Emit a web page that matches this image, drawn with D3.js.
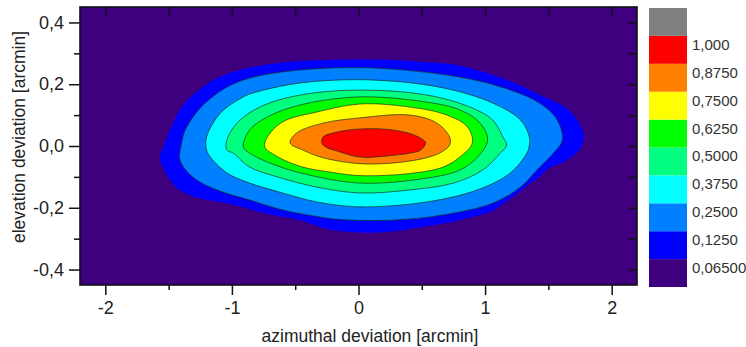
<!DOCTYPE html>
<html>
<head>
<meta charset="utf-8">
<script src="https://cdn.jsdelivr.net/npm/d3@7/dist/d3.min.js"></script>
<style>
  html, body { margin: 0; padding: 0; background: #ffffff; }
  svg { display: block; font-family: "Liberation Sans", Arial, sans-serif; }
</style>
</head>
<body>
<svg id="chart" width="746" height="347"></svg>
<script>
// Axis ticks (arcmin)
const azTicks = [-2, -1, 0, 1, 2];
const azMinor = [-1.5, -0.5, 0.5, 1.5];
const elTicks = [-0.4, -0.2, 0.0, 0.2, 0.4];
const elMinor = [-0.3, -0.1, 0.1, 0.3];

// Contour levels (normalised intensity) and the colour of each band
const levels = [0.065, 0.125, 0.25, 0.375, 0.5, 0.625, 0.75, 0.875, 1.0];
const levelLabels = ["0,06500", "0,1250", "0,2500", "0,3750", "0,5000", "0,6250", "0,7500", "0,8750", "1,000"];
const bandColors = ["#3f0080", "#0000ff", "#0080ff", "#00ffff", "#00ff80", "#00ff00", "#ffff00", "#ff8000", "#ff0000", "#808080"];

// Iso-intensity rings, [azimuth, elevation] in arcmin
const ring065 = [[-1.57,-0.04],[-1.54,0.00],[-1.49,0.05],[-1.39,0.13],[-1.20,0.20],[-0.99,0.24],[-0.60,0.27],[0.09,0.28],[0.57,0.27],[0.80,0.26],[1.20,0.21],[1.46,0.16],[1.65,0.12],[1.75,0.07],[1.78,0.03],[1.75,-0.01],[1.63,-0.05],[1.51,-0.07],[1.43,-0.10],[1.33,-0.13],[1.20,-0.17],[1.06,-0.21],[0.80,-0.24],[0.54,-0.26],[0.17,-0.28],[-0.23,-0.27],[-0.46,-0.24],[-0.72,-0.22],[-0.99,-0.19],[-1.33,-0.16],[-1.45,-0.13],[-1.53,-0.08]];
const ring125 = [[-1.41,-0.045],[-1.40,0.003],[-1.37,0.05],[-1.25,0.123],[-1.05,0.188],[-0.83,0.223],[-0.46,0.246],[0.09,0.253],[0.80,0.223],[1.20,0.181],[1.43,0.139],[1.57,0.084],[1.61,0.019],[1.54,-0.023],[1.41,-0.078],[1.28,-0.133],[1.06,-0.185],[0.67,-0.223],[0.27,-0.240],[-0.15,-0.238],[-0.33,-0.228],[-0.60,-0.207],[-0.86,-0.175],[-1.12,-0.142],[-1.31,-0.100]];
const ring250 = [[-1.20,-0.013],[-1.20,0.029],[-1.09,0.107],[-0.91,0.159],[-0.83,0.172],[-0.46,0.204],[0.09,0.214],[0.67,0.188],[1.06,0.139],[1.28,0.084],[1.35,0.029],[1.35,0.003],[1.33,-0.023],[1.20,-0.087],[0.94,-0.142],[0.54,-0.181],[0.01,-0.197],[-0.33,-0.181],[-0.60,-0.152],[-0.86,-0.120],[-1.04,-0.087],[-1.17,-0.036]];
const ring375 = [[-1.04,-0.013],[-1.04,0.019],[-0.96,0.074],[-0.78,0.126],[-0.46,0.165],[0.01,0.181],[0.54,0.165],[0.88,0.126],[1.06,0.084],[1.14,0.029],[1.17,0.003],[1.12,-0.023],[0.98,-0.078],[0.75,-0.120],[0.41,-0.142],[0.01,-0.152],[-0.33,-0.133],[-0.64,-0.100],[-0.86,-0.068],[-0.99,-0.023]];
const ring500 = [[-0.91,-0.003],[-0.86,0.052],[-0.72,0.094],[-0.46,0.133],[0.01,0.159],[0.54,0.142],[0.80,0.117],[0.96,0.074],[1.02,0.019],[0.94,-0.036],[0.80,-0.078],[0.54,-0.104],[0.01,-0.120],[-0.46,-0.087],[-0.70,-0.055],[-0.86,-0.023]];
const ring625 = [[-0.74,-0.003],[-0.72,0.029],[-0.60,0.078],[-0.33,0.110],[0.01,0.136],[0.41,0.126],[0.70,0.100],[0.86,0.062],[0.90,0.010],[0.80,-0.036],[0.67,-0.068],[0.41,-0.089],[0.01,-0.096],[-0.20,-0.086],[-0.46,-0.066],[-0.66,-0.030]];
const ring750 = [[-0.54,0.010],[-0.49,0.042],[-0.28,0.074],[0.01,0.091],[0.41,0.100],[0.62,0.074],[0.72,0.029],[0.72,0.003],[0.64,-0.023],[0.46,-0.045],[0.05,-0.058],[-0.28,-0.038],[-0.44,-0.013]];
const ring875 = [[-0.29,0.010],[-0.28,0.029],[-0.17,0.045],[0.01,0.055],[0.27,0.052],[0.46,0.032],[0.53,0.010],[0.49,-0.013],[0.41,-0.023],[0.23,-0.032],[0.01,-0.036],[-0.17,-0.016],[-0.26,-0.003]];
const rings = [ring065, ring125, ring250, ring375, ring500, ring625, ring750, ring875];

// Layout
const W = 746, H = 347;
const plot = { left: 80, right: 637, top: 7, bottom: 285 };
const bar = { left: 649, right: 687, top: 8, bottom: 287 };

const svg = d3.select("#chart");

const x = d3.scaleLinear().domain([-2.2, 2.2]).range([plot.left, plot.right]);
const y = d3.scaleLinear().domain([-0.45, 0.45]).range([plot.bottom, plot.top]);

const loc = d3.formatLocale({ decimal: ",", thousands: ".", grouping: [3], currency: ["", ""], minus: "-" });
const fmtEl = loc.format(".1f");
const fmtAz = loc.format("d");

// Clip to the plotting frame
svg.append("defs").append("clipPath").attr("id", "plotClip")
  .append("rect")
  .attr("x", plot.left).attr("y", plot.top)
  .attr("width", plot.right - plot.left).attr("height", plot.bottom - plot.top);

const field = svg.append("g").attr("clip-path", "url(#plotClip)");

// Background band (below the lowest level)
field.append("rect")
  .attr("x", plot.left).attr("y", plot.top)
  .attr("width", plot.right - plot.left).attr("height", plot.bottom - plot.top)
  .attr("fill", bandColors[0]);

const ringLine = d3.line()
  .x(d => x(d[0]))
  .y(d => y(d[1]))
  .curve(d3.curveCatmullRomClosed.alpha(0.5));

field.selectAll("path.band")
  .data(rings)
  .join("path")
  .attr("class", "band")
  .attr("d", ringLine)
  .attr("fill", (d, i) => bandColors[i + 1])
  .attr("stroke", (d, i) => i === 0 ? "none" : "#1a2a1a")
  .attr("stroke-opacity", 0.75)
  .attr("stroke-width", 0.9)
  .attr("stroke-linejoin", "round");

// Axes
const tickFont = "18px";

// bottom axis: outward ticks
const bottomAxis = svg.append("g").attr("transform", `translate(0,${plot.bottom})`);
bottomAxis.call(d3.axisBottom(x).tickValues(azMinor).tickSize(5).tickFormat(""));
bottomAxis.call(g => g.select(".domain").remove());
const bottomMajor = svg.append("g").attr("transform", `translate(0,${plot.bottom})`)
  .call(d3.axisBottom(x).tickValues(azTicks).tickSize(10).tickPadding(6).tickFormat(fmtAz));
bottomMajor.select(".domain").remove();
bottomMajor.selectAll("text").attr("font-size", tickFont).attr("fill", "#222")
  .attr("font-family", "Liberation Sans, Arial, sans-serif");

// left axis: outward ticks
const leftMinor = svg.append("g").attr("transform", `translate(${plot.left},0)`)
  .call(d3.axisLeft(y).tickValues(elMinor).tickSize(6).tickFormat(""));
leftMinor.select(".domain").remove();
const leftMajor = svg.append("g").attr("transform", `translate(${plot.left},0)`)
  .call(d3.axisLeft(y).tickValues(elTicks).tickSize(11).tickPadding(5).tickFormat(fmtEl));
leftMajor.select(".domain").remove();
leftMajor.selectAll("text").attr("font-size", tickFont).attr("fill", "#222")
  .attr("font-family", "Liberation Sans, Arial, sans-serif");

// top axis: inward ticks
const topAx = svg.append("g").attr("transform", `translate(0,${plot.top})`)
  .call(d3.axisTop(x).tickValues(azTicks.concat(azMinor)).tickSize(-8).tickFormat(""));
topAx.select(".domain").remove();

// right axis: inward ticks
const rightAx = svg.append("g").attr("transform", `translate(${plot.right},0)`)
  .call(d3.axisRight(y).tickValues(elTicks.concat(elMinor)).tickSize(-8).tickFormat(""));
rightAx.select(".domain").remove();

svg.selectAll(".tick line").attr("stroke", "#111").attr("stroke-width", 1.5);

// Frame
svg.append("rect")
  .attr("x", plot.left).attr("y", plot.top)
  .attr("width", plot.right - plot.left).attr("height", plot.bottom - plot.top)
  .attr("fill", "none").attr("stroke", "#111").attr("stroke-width", 1.6);

// Axis titles
svg.append("text")
  .attr("x", 370).attr("y", 342)
  .attr("text-anchor", "middle")
  .attr("font-size", "17.5px").attr("fill", "#222")
  .text("azimuthal deviation [arcmin]");

svg.append("text")
  .attr("transform", "translate(25,137) rotate(-90)")
  .attr("text-anchor", "middle")
  .attr("font-size", "17.5px").attr("fill", "#222")
  .text("elevation deviation [arcmin]");

// Colour scale
const yb = d3.scaleLinear().domain([0, bandColors.length]).range([bar.bottom, bar.top]);

svg.append("g").selectAll("rect")
  .data(bandColors)
  .join("rect")
  .attr("x", bar.left)
  .attr("y", (d, i) => yb(i + 1))
  .attr("width", bar.right - bar.left)
  .attr("height", (d, i) => yb(i) - yb(i + 1))
  .attr("fill", d => d);

svg.append("g").selectAll("text")
  .data(levelLabels)
  .join("text")
  .attr("x", 692)
  .attr("y", (d, i) => yb(i + 1) + 10)
  .attr("dominant-baseline", "middle")
  .attr("font-size", "15px").attr("fill", "#333")
  .text(d => d);
</script>
</body>
</html>
